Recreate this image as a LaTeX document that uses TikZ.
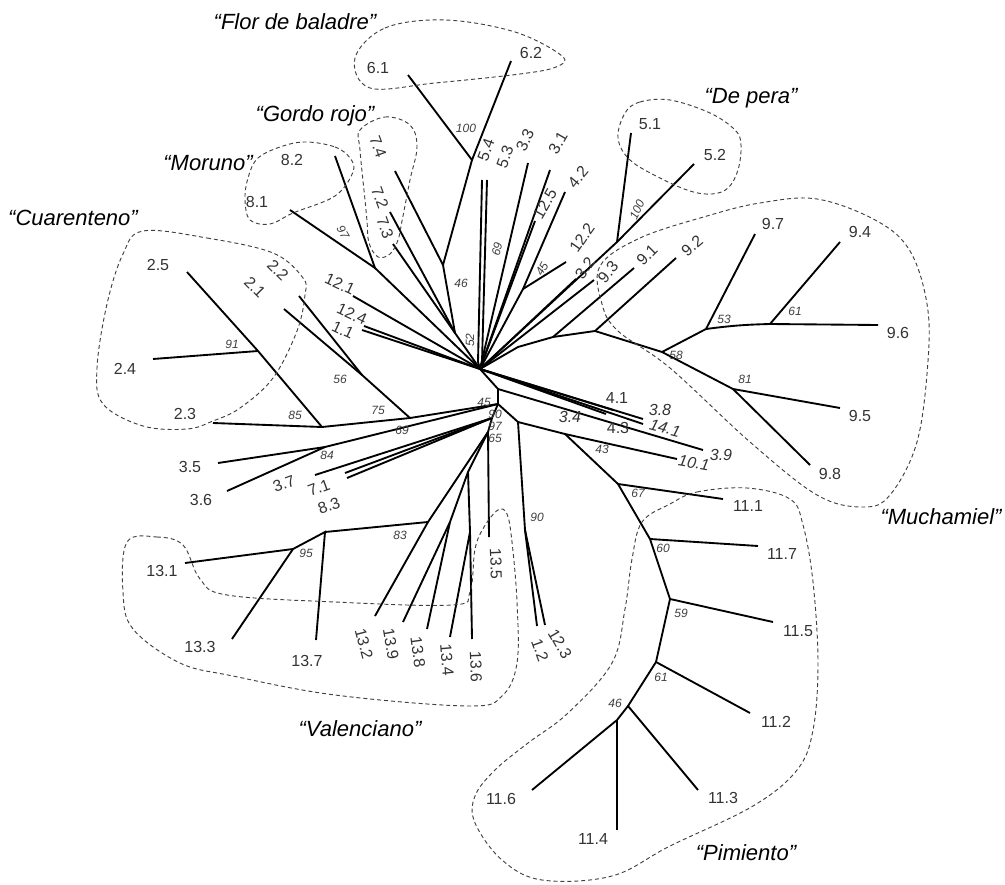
\documentclass[tikz,border=0pt]{standalone}
\usepackage{fontspec}
\setmainfont{Liberation Sans}
\begin{document}
\begin{tikzpicture}[x=0.75pt,y=-0.75pt,
  br/.style={line width=1.4pt},
  grp/.style={line width=0.7pt, black!75, dash pattern=on 3pt off 2.2pt},
  lab/.style={font=\fontsize{12}{12}\selectfont, text=black!80, inner sep=0pt},
  ilab/.style={font=\fontsize{12}{12}\selectfont\itshape, text=black!80, inner sep=0pt},
  bs/.style={font=\fontsize{9}{9}\selectfont\itshape, text=black!75, inner sep=0pt},
  gname/.style={font=\fontsize{16.5}{16.5}\selectfont\itshape, inner sep=0pt}]
\useasboundingbox (0,0) rectangle (1005,884);
% ---------- coordinates ----------
\coordinate (H) at (480,369);
% top
\coordinate (f61) at (408,75); \coordinate (f62) at (511,61);
\coordinate (n100f) at (472,160); \coordinate (n46) at (443,265);
\coordinate (l74) at (395,171); \coordinate (n52) at (455,333);
\coordinate (l72) at (390,212); \coordinate (l73) at (393,244);
\coordinate (l81) at (290,210); \coordinate (l82) at (335,156); \coordinate (nMor) at (375,268);
\coordinate (l121) at (353,296); \coordinate (l124) at (364,326); \coordinate (l11) at (362,330);
\coordinate (l54) at (482,180); \coordinate (l53) at (487,180);
\coordinate (e54) at (478,362); \coordinate (e53) at (482,362);
\coordinate (l33) at (528,163); \coordinate (l31) at (550,170); \coordinate (l125) at (535,221);
\coordinate (l42) at (565,192); \coordinate (l122) at (566,262); \coordinate (n45u) at (523,289);
\coordinate (l51) at (631,133); \coordinate (l52) at (694,164); \coordinate (n100d) at (617,242);
\coordinate (l32) at (576,279); \coordinate (l93) at (594,280);
\coordinate (l91) at (634,268); \coordinate (l92) at (676,258);
\coordinate (n9a) at (595,331); \coordinate (n9b) at (553,337); \coordinate (n9c) at (518,347);
\coordinate (n58) at (662,352); \coordinate (n53) at (706,329); \coordinate (l97) at (755,234);
\coordinate (n61m) at (770,324); \coordinate (l94) at (840,242); \coordinate (l96) at (878,325);
\coordinate (n81) at (733,389); \coordinate (l95) at (840,408); \coordinate (l98) at (810,465);
% lower right
\coordinate (A) at (498,389); \coordinate (B) at (498,404);
\coordinate (e41) at (613,410); \coordinate (e43) at (606,414);
\coordinate (e38) at (643,419); \coordinate (e141) at (643,424);
\coordinate (l39) at (703,450);
\coordinate (C) at (518,422); \coordinate (n43) at (565,434); \coordinate (l101) at (677,459);
\coordinate (n90b) at (525,530); \coordinate (l123) at (545,625); \coordinate (l12) at (537,626);
\coordinate (n67) at (618,484); \coordinate (l111) at (723,499);
\coordinate (n60) at (650,539); \coordinate (l117) at (758,546);
\coordinate (n59) at (670,599); \coordinate (l115) at (773,622);
\coordinate (n61p) at (656,662); \coordinate (l112) at (750,713);
\coordinate (n46p) at (628,706); \coordinate (l113) at (698,790);
\coordinate (n46q) at (617,720); \coordinate (l116) at (532,790); \coordinate (l114) at (617,830);
% lower left
\coordinate (N97) at (492,418); \coordinate (N65) at (488,432);
\coordinate (n85) at (322,427); \coordinate (n75) at (410,418); \coordinate (n56) at (362,375);
\coordinate (l22) at (299,296); \coordinate (l21) at (284,309);
\coordinate (l25) at (187,272); \coordinate (n91) at (258,351);
\coordinate (l24) at (153,359); \coordinate (l23) at (213,423);
\coordinate (n84) at (325,447); \coordinate (l35) at (218,463); \coordinate (l36) at (227,491);
\coordinate (l37) at (315,475); \coordinate (l71) at (345,473); \coordinate (l83) at (347,478);
\coordinate (n83v) at (428,522); \coordinate (n95) at (293,549); \coordinate (n137) at (325,532);
\coordinate (l131) at (185,563); \coordinate (l133) at (232,639); \coordinate (l137) at (316,640);
\coordinate (l132) at (375,616); \coordinate (l139) at (403,622); \coordinate (n139) at (468,472);
\coordinate (n138) at (450,522); \coordinate (l138) at (427,629);
\coordinate (n134) at (470,532); \coordinate (l134) at (450,637); \coordinate (l136) at (472,639);
\coordinate (l135) at (489,537);
% ---------- branches ----------
\draw[br] (f61) -- (n100f); \draw[br] (f62) -- (n100f) -- (n46) -- (n52) -- (H);
\draw[br] (l74) -- (n46);
\draw[br] (l72) -- (n52); \draw[br] (l73) -- (n52);
\draw[br] (l81) -- (nMor); \draw[br] (l82) -- (nMor) -- (H);
\draw[br] (l121) -- (H); \draw[br] (l124) -- (H); \draw[br] (l11) -- (H);
\draw[br] (l54) -- (e54) -- (H); \draw[br] (l53) -- (e53) -- (H);
\draw[br] (l33) -- (H); \draw[br] (l31) -- (H); \draw[br] (l125) -- (H);
\draw[br] (l42) -- (n45u) -- (H); \draw[br] (l122) -- (n45u);
\draw[br] (l51) -- (n100d); \draw[br] (l52) -- (n100d) -- (H);
\draw[br] (l32) -- (H); \draw[br] (l93) -- (H);
\draw[br] (l92) -- (n9a); \draw[br] (n58) -- (n9a) -- (n9b) -- (n9c) -- (H);
\draw[br] (l91) -- (n9b);
\draw[br] (n58) -- (n53) -- (l97); \draw[br] (n53) to[bend left=3] (n61m); \draw[br] (n61m) -- (l94);
\draw[br] (n61m) -- (l96);
\draw[br] (n58) -- (n81) -- (l95); \draw[br] (n81) -- (l98);
\draw[br] (H) -- (A) -- (B);
\draw[br] (H) -- (e41); \draw[br] (H) -- (e43); \draw[br] (H) -- (e38); \draw[br] (H) -- (e141);
\draw[br] (A) -- (l39);
\draw[br] (B) -- (C) -- (n43) -- (l101);
\draw[br] (C) -- (n90b) -- (l123); \draw[br] (n90b) -- (l12);
\draw[br] (n43) -- (n67) -- (n60) -- (n59) -- (n61p) -- (n46p) -- (n46q);
\draw[br] (n67) -- (l111); \draw[br] (n60) -- (l117); \draw[br] (n59) -- (l115);
\draw[br] (n61p) -- (l112); \draw[br] (n46p) -- (l113);
\draw[br] (n46q) -- (l116); \draw[br] (n46q) -- (l114);
\draw[br] (B) -- (N97) -- (N65);
\draw[br] (l25) -- (n91) -- (n85); \draw[br] (l24) -- (n91); \draw[br] (l23) -- (n85);
\draw[br] (n85) -- (n75) -- (B); \draw[br] (l22) -- (n56) -- (n75); \draw[br] (l21) -- (n56);
\draw[br] (l35) -- (n84) -- (B); \draw[br] (l36) -- (n84);
\draw[br] (l37) -- (N97); \draw[br] (l71) -- (N97); \draw[br] (l83) -- (N97);
\draw[br] (l132) -- (n83v) -- (N65); \draw[br] (n137) -- (n83v);
\draw[br] (l131) -- (n95) -- (n137) -- (l137); \draw[br] (l133) -- (n95);
\draw[br] (l139) -- (n138) -- (n139) -- (N65); \draw[br] (l138) -- (n138);
\draw[br] (l136) -- (n134) -- (n139); \draw[br] (l134) -- (n134);
\draw[br] (l135) -- (N65);
% ---------- group outlines ----------
\draw[grp] plot[smooth cycle, tension=0.6] coordinates {(355,58) (385,28) (445,20) (515,32) (562,56) (556,67) (520,74) (435,83) (370,88)};
\draw[grp] plot[smooth cycle, tension=0.6] coordinates {(360,130) (385,117) (410,125) (417,147) (410,180) (402,221) (398,240) (390,254) (378,257) (369,243) (367,221) (365,200) (360,150)};
\draw[grp] plot[smooth cycle, tension=0.6] coordinates {(307,142) (335,147) (350,158) (353,172) (335,196) (293,213) (270,224) (250,220) (245,200) (248,178) (258,158) (283,146)};
\draw[grp] plot[smooth cycle, tension=0.6] coordinates {(625,113) (640,102) (670,100) (710,113) (735,130) (741,145) (738,170) (728,188) (712,194) (690,191) (660,178) (630,160) (618,138)};
\draw[grp] plot[smooth cycle, tension=0.6] coordinates {(600,266) (640,238) (707,216) (760,203) (817,199) (877,221) (910,251) (927,304) (928,361) (917,442) (890,495) (863,507) (817,495) (750,442) (670,368) (618,331) (602,304)};
\draw[grp] plot[smooth cycle, tension=0.6] coordinates {(143,231) (207,238) (273,253) (303,278) (305,295) (297,331) (273,378) (240,408) (213,421) (187,429) (143,426) (103,404) (97,368) (107,304) (123,254)};
\draw[grp] plot[smooth cycle, tension=0.6] coordinates {(127,542) (157,537) (183,545) (200,579) (227,595) (335,602) (452,605) (470,592) (475,549) (484,527) (498,510) (507,514) (512,542) (517,602) (517,663) (502,696) (468,706) (335,695) (233,676) (180,663) (133,629) (123,592)};
\draw[grp] plot[smooth cycle, tension=0.6] coordinates {(670,504) (697,492) (747,488) (790,499) (803,525) (813,582) (818,663) (813,730) (797,770) (753,806) (670,846) (612,876) (542,880) (502,860) (475,823) (475,796) (495,770) (528,743) (568,713) (612,663) (625,609) (632,559) (642,522)};
% ---------- leaf labels ----------
\node[lab] (t61) at (378,68) {6.1};
\node[lab] (t62) at (531,53) {6.2};
\node[lab,rotate=-70] (t74) at (378,147) {7.4};
\node[lab,rotate=-70] (t72) at (380,198) {7.2};
\node[lab,rotate=-70] (t73) at (385,228) {7.3};
\node[lab] (t82) at (292,160) {8.2};
\node[lab] (t81) at (257,202) {8.1};
\node[lab,rotate=70] (t54) at (486,150) {5.4};
\node[lab,rotate=70] (t53) at (505,157) {5.3};
\node[lab,rotate=65] (t33) at (525,140) {3.3};
\node[lab,rotate=60] (t31) at (558,143) {3.1};
\node[lab,rotate=60] (t125) at (545,204) {12.5};
\node[lab,rotate=50] (t42) at (578,177) {4.2};
\node[lab,rotate=55] (t122) at (582,238) {12.2};
\node[lab,rotate=55] (t32) at (585,268) {3.2};
\node[lab,rotate=50] (t93) at (608,272) {9.3};
\node[lab,rotate=45] (t91) at (647,255) {9.1};
\node[lab,rotate=40] (t92) at (692,246) {9.2};
\node[lab] (t51) at (650,124) {5.1};
\node[lab] (t52) at (715,155) {5.2};
\node[lab] (t97) at (773,224) {9.7};
\node[lab] (t94) at (860,232) {9.4};
\node[lab] (t96) at (898,333) {9.6};
\node[lab] (t95) at (860,416) {9.5};
\node[lab] (t98) at (830,474) {9.8};
\node[lab,rotate=-25] (t121) at (340,284) {12.1};
\node[lab,rotate=-25] (t124) at (352,314) {12.4};
\node[lab,rotate=-25] (t11) at (343,330) {1.1};
\node[lab] (t25) at (158,265) {2.5};
\node[lab,rotate=-45] (t22) at (278,270) {2.2};
\node[lab,rotate=-45] (t21) at (255,287) {2.1};
\node[lab] (t24) at (125,369) {2.4};
\node[lab] (t23) at (185,414) {2.3};
\node[lab] (t35) at (190,467) {3.5};
\node[lab] (t36) at (201,500) {3.6};
\node[lab,rotate=20] (t37) at (284,484) {3.7};
\node[lab,rotate=20] (t71) at (319,488) {7.1};
\node[lab,rotate=20] (t83) at (329,506) {8.3};
\node[lab] (t131) at (162,571) {13.1};
\node[lab] (t133) at (200,647) {13.3};
\node[lab] (t137) at (307,661) {13.7};
\node[lab,rotate=-75] (t132) at (364,644) {13.2};
\node[lab,rotate=-80] (t139) at (391,644) {13.9};
\node[lab,rotate=-82] (t138) at (418,652) {13.8};
\node[lab,rotate=-85] (t134) at (447,660) {13.4};
\node[lab,rotate=-88] (t136) at (476,667) {13.6};
\node[lab,rotate=-88] (t135) at (496,564) {13.5};
\node[lab,rotate=-60] (t123) at (560,644) {12.3};
\node[lab,rotate=-70] (t12) at (540,650) {1.2};
\node[lab] (t41) at (617,398) {4.1};
\node[lab] (t43) at (618,428) {4.3};
\node[ilab] (t38) at (660,410) {3.8};
\node[ilab,rotate=-15] (t141) at (665,428) {14.1};
\node[ilab] (t34) at (570,417) {3.4};
\node[ilab] (t39) at (721,455) {3.9};
\node[ilab,rotate=-10] (t101) at (694,463) {10.1};
\node[lab] (t111) at (748,506) {11.1};
\node[lab] (t117) at (782,554) {11.7};
\node[lab] (t115) at (798,631) {11.5};
\node[lab] (t112) at (776,722) {11.2};
\node[lab] (t113) at (723,798) {11.3};
\node[lab] (t116) at (501,799) {11.6};
\node[lab] (t114) at (593,839) {11.4};
% ---------- bootstrap values ----------
\node[bs] (b100f) at (466,128) {100};
\node[bs] (b46) at (461,283) {46};
\node[bs,rotate=75] (b69) at (497,249) {69};
\node[bs,rotate=90] (b52) at (470,340) {52};
\node[bs,rotate=60] (b45u) at (542,269) {45};
\node[bs,rotate=65] (b100d) at (637,210) {100};
\node[bs,rotate=-60] (b97m) at (343,232) {97};
\node[bs] (b91) at (232,344) {91};
\node[bs] (b85) at (295,415) {85};
\node[bs] (b56) at (340,379) {56};
\node[bs] (b75) at (378,410) {75};
\node[bs] (b69l) at (402,430) {69};
\node[bs] (b84) at (327,455) {84};
\node[bs] (b45) at (484,402) {45};
\node[bs] (b90) at (495,414) {90};
\node[bs] (b97) at (495,426) {97};
\node[bs] (b65) at (495,438) {65};
\node[bs] (b83) at (400,535) {83};
\node[bs] (b95) at (306,553) {95};
\node[bs] (b90b) at (537,517) {90};
\node[bs] (b43) at (602,449) {43};
\node[bs] (b67) at (638,493) {67};
\node[bs] (b60) at (663,548) {60};
\node[bs] (b59) at (681,613) {59};
\node[bs] (b61p) at (661,677) {61};
\node[bs] (b46p) at (615,703) {46};
\node[bs] (b53) at (724,319) {53};
\node[bs] (b61m) at (795,311) {61};
\node[bs] (b58) at (676,355) {58};
\node[bs] (b81) at (745,379) {81};
% ---------- group names ----------
\node[gname] (gFlor) at (295,22) {“Flor de baladre”};
\node[gname] (gGordo) at (315,116) {“Gordo rojo”};
\node[gname] (gMor) at (208,163) {“Moruno”};
\node[gname] (gCuar) at (73,218) {“Cuarenteno”};
\node[gname] (gPera) at (751,98) {“De pera”};
\node[gname] (gMuch) at (941,517) {“Muchamiel”};
\node[gname] (gVal) at (360,729) {“Valenciano”};
\node[gname] (gPim) at (746,853) {“Pimiento”};
\end{tikzpicture}
\end{document}
